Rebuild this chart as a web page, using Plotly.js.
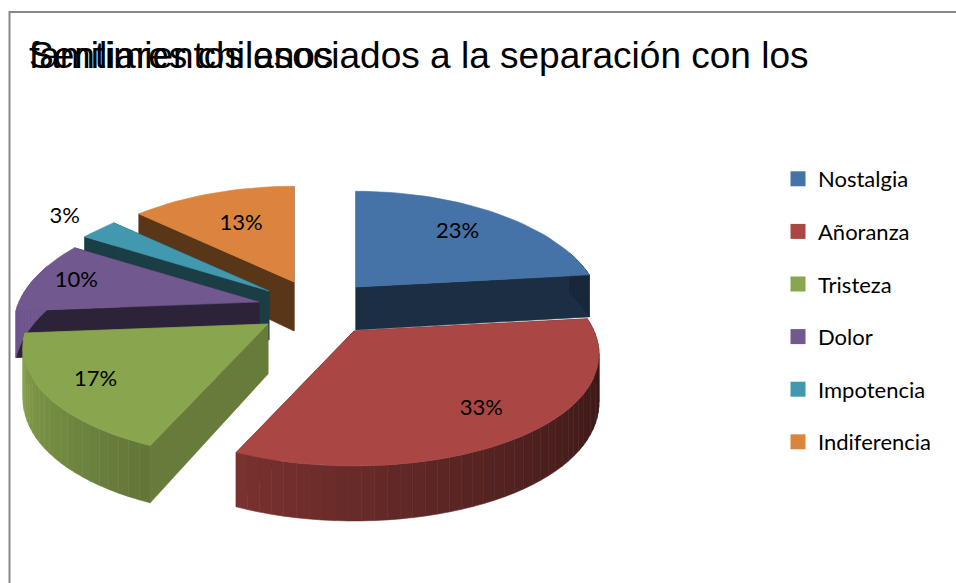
<!DOCTYPE html>
<html><head><meta charset="utf-8">
<script src="https://cdn.plot.ly/plotly-3.0.1.min.js"></script>
<style>html,body{margin:0;padding:0;background:#fff}</style></head>
<body><div id="chart" style="width:956px;height:583px"></div>
<script>
const categories = ["Nostalgia","Añoranza","Tristeza","Dolor","Impotencia","Indiferencia"];
const percents = [23,33,17,10,3,13];
const colors = ["#4572A7","#AA4643","#89A54E","#71588F","#4198AF","#DB843D"];

// Scene geometry of the exploded, tilted pie (not data)
const apexX = [356,354,268,259,269,294];
const apexY = [287,331,324,302,291,282];
const thick = [43,47,50,46,49,49];
const cutShade = [0.4,0.4,0.75,0.4,0.4,0.41];
const labelFrac = [0.73,0.75,0.78,0.82,1.2,0.65];
const drawOrder = [5,4,3,2,0,1];
const RX = 240, RY = 112, KX = 0.2, KY = 0.17;

const total = percents.reduce((a,b)=>a+b,0);
const starts = []; let acc = 0;
percents.forEach(p=>{starts.push(acc); acc += p/total*360;});
const rad = d=>d*Math.PI/180;
function rim(i,deg,f=1){
  const v=-Math.cos(rad(deg)), u=Math.sin(rad(deg));
  return {x:apexX[i]+f*u*RX/(1-KX*v), y:apexY[i]+f*v*RY/(1-KY*v), v};
}
function shade(hex,f){
  const n=parseInt(hex.slice(1),16);
  return `rgb(${[n>>16,(n>>8)&255,n&255].map(c=>Math.round(c*f)).join(",")})`;
}
function wallShade(deg){
  if(deg<100) return 0.35;
  const t=Math.min(1,(deg-100)/162);
  return 0.35+0.65*Math.pow(t,1.3);
}
function poly(xs,ys,col){
  return {type:"scatter",mode:"lines",x:xs.concat(xs[0]),y:ys.concat(ys[0]),fill:"toself",
    fillcolor:col,line:{color:col,width:0.6},showlegend:false,hoverinfo:"skip"};
}
const traces=[];
drawOrder.forEach(i=>{
  const a0=starts[i], a1=a0+percents[i]/total*360, col=colors[i];
  const dep=v=>thick[i]+8*v;
  // cut faces
  [a0,a1].forEach(a=>{
    const p=rim(i,a);
    traces.push(poly([apexX[i],p.x,p.x,apexX[i]],[apexY[i],p.y,p.y+dep(p.v),apexY[i]+thick[i]],shade(col,cutShade[i])));
  });
  // outer wall, shaded strip by strip
  const n=Math.ceil((a1-a0)/2.5);
  for(let k=0;k<n;k++){
    const b0=a0+(a1-a0)*k/n, b1=a0+(a1-a0)*(k+1)/n;
    const p=rim(i,b0), q=rim(i,b1);
    if(Math.max(p.v,q.v)<-0.3) continue;
    traces.push(poly([p.x,q.x,q.x,p.x],[p.y,q.y,q.y+dep(q.v),p.y+dep(p.v)],shade(col,wallShade((b0+b1)/2))));
  }
  // top face
  const xs=[apexX[i]], ys=[apexY[i]];
  for(let k=0;k<=n;k++){const p=rim(i,a0+(a1-a0)*k/n); xs.push(p.x); ys.push(p.y);}
  traces.push(poly(xs,ys,col));
});
// percentage labels
const mids=starts.map((s,i)=>s+percents[i]/total*180);
const lab=mids.map((m,i)=>rim(i,m,labelFrac[i]));
traces.push({type:"scatter",mode:"text",x:lab.map(p=>p.x),y:lab.map(p=>p.y),
  text:percents.map(p=>p+"%"),textposition:"middle center",
  textfont:{family:"Lato, Carlito, sans-serif",size:22,color:"#000"},showlegend:false,hoverinfo:"skip"});
// legend keys
categories.forEach((c,i)=>traces.push({type:"scatter",mode:"markers",x:[null],y:[null],name:c,legendgroup:c,
  marker:{symbol:"square",size:15,color:colors[i]},showlegend:true}));

const layout={
  width:956,height:583,autosize:false,margin:{l:0,r:0,t:0,b:0},
  paper_bgcolor:"#fff",plot_bgcolor:"#fff",
  xaxis:{range:[0,956],visible:false,fixedrange:true},
  yaxis:{range:[583,0],visible:false,fixedrange:true},
  title:{text:"Sentimientos asociados a la separación con los<br>familiares chilenos",
    font:{family:"Liberation Sans, Arial, sans-serif",size:37,color:"#000"},
    x:29/956,xref:"container",xanchor:"left",y:1-26/583,yref:"container",yanchor:"top"},
  legend:{x:778/956,y:1-158/583,xanchor:"left",yanchor:"top",traceorder:"grouped",tracegroupgap:21,
    bgcolor:"rgba(0,0,0,0)",font:{family:"Lato, Carlito, sans-serif",size:22,color:"#000"},itemclick:false,itemdoubleclick:false},
  shapes:[{type:"path",xref:"x",yref:"y",path:"M 9.5 583 L 9.5 12 L 956 12",line:{color:"#868686",width:2}}],
  showlegend:true
};
Plotly.newPlot("chart",traces,layout,{displayModeBar:false,staticPlot:false}).then(()=>{
  document.querySelectorAll(".gtitle tspan.line").forEach(t=>{ if(t.getAttribute("dy")) t.setAttribute("dy","1.13em"); });
});
</script></body></html>
